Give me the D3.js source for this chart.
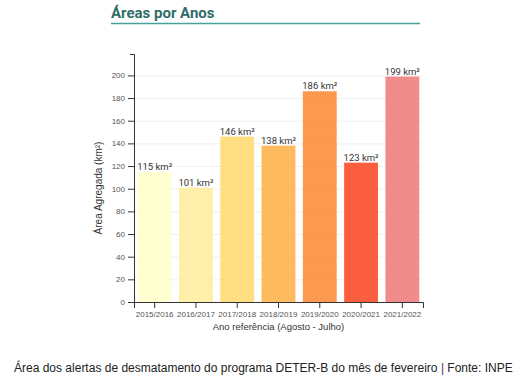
<!DOCTYPE html>
<html>
  <head>
    <meta charset="utf-8">
    <style>
      body { margin: 0; background: #fff; overflow: hidden; }
      .grid line { stroke: #f0f0f0; }
      .grid .domain { display: none; }
      .axis text { fill: #555; font-family: "Liberation Sans", Arial, sans-serif; font-size: 8px; }
      .axis path, .axis line { stroke: #333; }
    </style>
  </head>
  <body>
    <svg width="524" height="390"></svg>
  </body>
  <script src="https://d3js.org/d3.v7.min.js"></script>
  <script>
    const years = ['2015/2016', '2016/2017', '2017/2018', '2018/2019', '2019/2020', '2020/2021', '2021/2022'];
    const areas = [115, 101, 146, 138, 186, 123, 199];
    const colors = ['#ffffcc', '#ffeda0', '#fed976', '#feb24c', '#fd8d3c', '#fc4e2a', '#f08080'];
    const yTicks = [0, 20, 40, 60, 80, 100, 120, 140, 160, 180, 200];

    const svg = d3.select('svg');
    const plotLeft = 134, plotRight = 423, plotTop = 54, plotBottom = 302;

    const x = d3.scaleBand().domain(years).range([plotLeft, plotRight]).paddingInner(0.18).paddingOuter(0.09);
    const y = d3.scaleLinear().domain([0, d3.max(areas) * 1.1]).range([plotBottom, plotTop]);

    // title
    svg.append('text')
      .attr('x', 111).attr('y', 18)
      .style('font-family', 'Roboto, sans-serif')
      .style('font-weight', 'bold')
      .style('font-size', '15px')
      .style('fill', '#2f6e68')
      .text('Áreas por Anos');
    svg.append('line')
      .attr('x1', 111).attr('x2', 420).attr('y1', 23.5).attr('y2', 23.5)
      .style('stroke', '#4aa09a').style('stroke-width', 1.5);

    // gridlines
    svg.append('g')
      .attr('class', 'grid')
      .attr('transform', 'translate(' + plotLeft + ',0)')
      .call(d3.axisRight(y).tickValues(yTicks).tickSize(plotRight - plotLeft).tickFormat(''));

    svg.append('g')
      .selectAll('rect')
      .data(areas)
      .enter()
      .append('rect')
      .attr('x', (d, i) => x(years[i]))
      .attr('width', x.bandwidth())
      .attr('y', d => y(d))
      .attr('height', d => y(0) - y(d))
      .style('fill', (d, i) => colors[i])
      .style('fill-opacity', 0.9);

    svg.append('g')
      .selectAll('text')
      .data(areas)
      .enter()
      .append('text')
      .attr('x', (d, i) => x(years[i]) + x.bandwidth() / 2)
      .attr('y', d => y(d) - 2)
      .attr('text-anchor', 'middle')
      .style('font-family', 'Roboto, sans-serif')
      .style('font-size', '9.5px')
      .style('fill', '#333')
      .text(d => d + ' km²');

    svg.append('g')
      .attr('class', 'axis')
      .attr('transform', 'translate(0,' + plotBottom + ')')
      .call(d3.axisBottom(x).tickSizeOuter(6));

    svg.append('g')
      .attr('class', 'axis')
      .attr('transform', 'translate(' + plotLeft + ',0)')
      .call(d3.axisLeft(y).tickValues(yTicks).tickSizeOuter(4));

    svg.append('text')
      .attr('x', (plotLeft + plotRight) / 2).attr('y', 330)
      .attr('text-anchor', 'middle')
      .style('font-family', '"Liberation Sans", Arial, sans-serif')
      .style('font-size', '9.5px')
      .style('fill', '#333')
      .text('Ano referência (Agosto - Julho)');

    svg.append('text')
      .attr('transform', 'translate(102,188) rotate(-90)')
      .attr('text-anchor', 'middle')
      .style('font-family', '"Liberation Sans", Arial, sans-serif')
      .style('font-size', '10px')
      .style('fill', '#333')
      .text('Área Agregada (km²)');

    // caption
    const cap = svg.append('text')
      .attr('x', 14).attr('y', 372)
      .style('font-family', '"Liberation Sans", Arial, sans-serif')
      .style('font-size', '12px')
      .style('fill', '#222');
    cap.append('tspan').text('Área dos alertas de desmatamento do programa DETER-B do mês de fevereiro ');
    cap.append('tspan').style('fill', '#6b2a6b').text('|');
    cap.append('tspan').text(' Fonte: INPE');
  </script>
</html>
